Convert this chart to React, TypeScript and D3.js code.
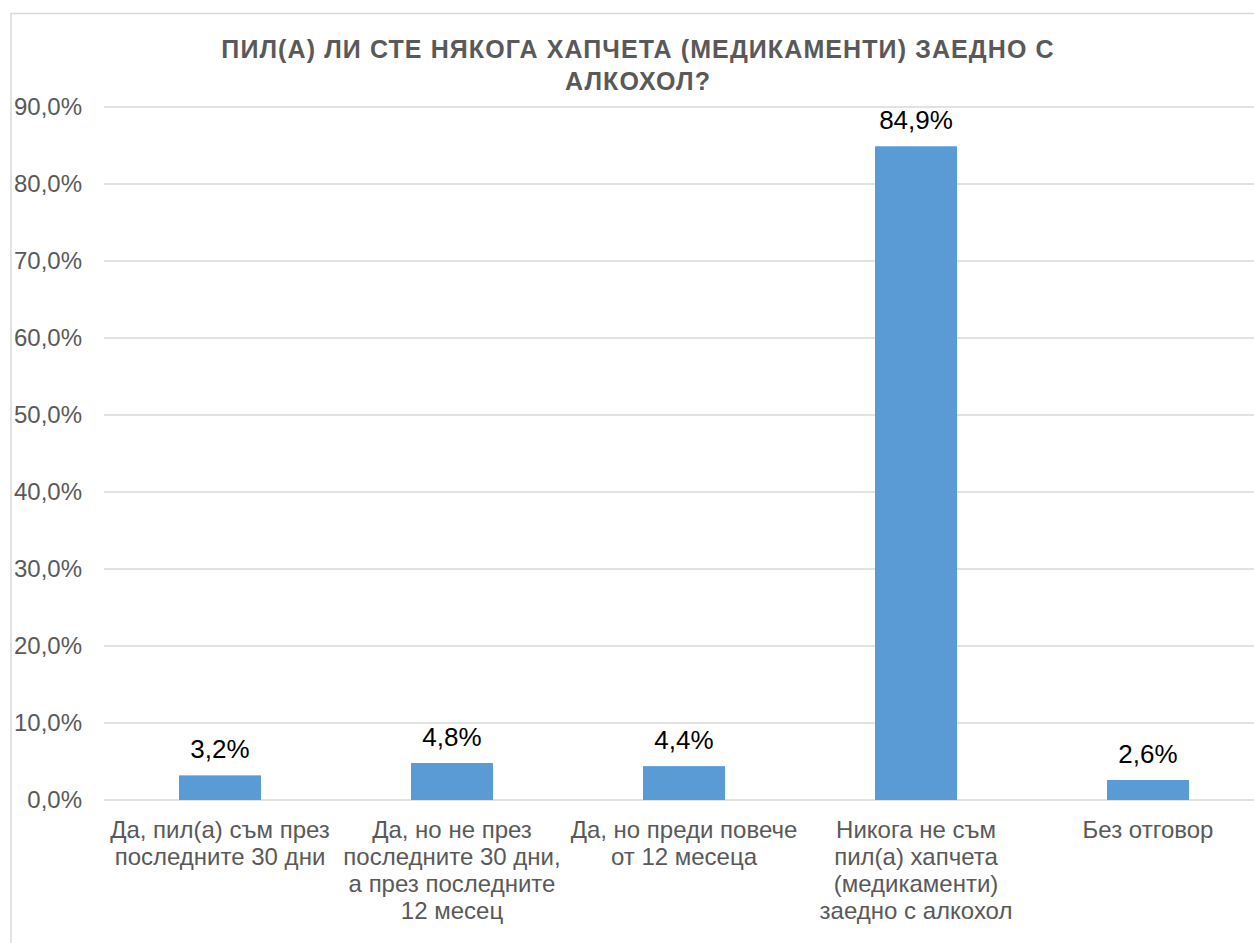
import React, { useEffect } from "react";
import * as d3 from "d3";

const categories = [
  "Да, пил(а) съм през\nпоследните 30 дни",
  "Да, но не през\nпоследните 30 дни,\nа през последните\n12 месец",
  "Да, но преди повече\nот 12 месеца",
  "Никога не съм\nпил(а) хапчета\n(медикаменти)\nзаедно с алкохол",
  "Без отговор",
];
const values = [3.2, 4.8, 4.4, 84.9, 2.6];
const ticks = [0, 10, 20, 30, 40, 50, 60, 70, 80, 90];
const titleLines = ["ПИЛ(А) ЛИ СТЕ НЯКОГА ХАПЧЕТА (МЕДИКАМЕНТИ) ЗАЕДНО С", "АЛКОХОЛ?"];

const fmt = (v: number) => v.toFixed(1).replace(".", ",") + "%";

export default function App() {
  useEffect(() => {
    document.body.style.margin = "0";
  }, []);
  const W = 1254, H = 943;
  const x = d3.scaleBand<string>().domain(categories).range([104, 1264]).paddingInner(0.6466).paddingOuter(0.3233);
  const y = d3.scaleLinear().domain([0, 90]).range([800, 107]);
  const font = "'Liberation Sans', Arial, sans-serif";
  return (
    <svg width={W} height={H} style={{ display: "block" }}>
      <rect x={0} y={0} width={W} height={H} fill="#fff" />
      <rect x={11} y={13.5} width={2000} height={2000} fill="none" stroke="#d9d9d9" strokeWidth={1.5} />
      {titleLines.map((t, i) => (
        <text key={i} x={638} y={58 + i * 32} textAnchor="middle" fontFamily={font} fontWeight="bold" fontSize={25} letterSpacing={1.1} fill="#595959">{t}</text>
      ))}
      {ticks.map((t) => (
        <g key={t}>
          <line x1={104} x2={1264} y1={y(t)} y2={y(t)} stroke="#d9d9d9" strokeWidth={1.5} />
          <text x={82} y={y(t) + 8} textAnchor="end" fontFamily={font} fontSize={24} fill="#595959">{fmt(t)}</text>
        </g>
      ))}
      {categories.map((c, i) => (
        <g key={c}>
          <rect x={x(c)} y={y(values[i])} width={x.bandwidth()} height={y(0) - y(values[i])} fill="#5b9bd5" />
          <text x={(x(c) ?? 0) + x.bandwidth() / 2} y={y(values[i]) - 17} textAnchor="middle" fontFamily={font} fontSize={26} fill="#000">{fmt(values[i])}</text>
          {c.split("\n").map((l, j) => (
            <text key={j} x={(x(c) ?? 0) + x.bandwidth() / 2} y={838 + j * 27} textAnchor="middle" fontFamily={font} fontSize={24} fill="#595959">{l}</text>
          ))}
        </g>
      ))}
    </svg>
  );
}
